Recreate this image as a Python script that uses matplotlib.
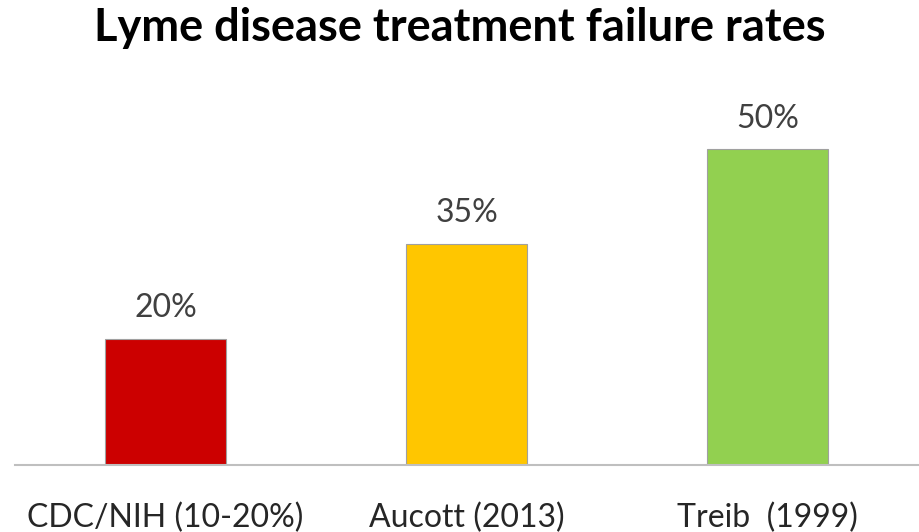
import numpy as np
import matplotlib.pyplot as plt

plt.rcParams['font.family'] = ['Lato', 'DejaVu Sans']

# Data
categories = ["CDC/NIH (10-20%)", "Aucott (2013)", "Treib  (1999)"]
rates = [20, 35, 50]
colors = ["#CC0000", "#FFC600", "#92D050"]

fig = plt.figure(figsize=(9.19, 5.32), dpi=100)
ax = fig.add_axes([15 / 919, (532 - 465) / 532, 903 / 919, 379 / 532])

x = np.arange(len(categories))
bars = ax.bar(x, rates, width=0.4, color=colors, edgecolor="#A0A0A0", linewidth=0.8, zorder=2)

# value labels above bars
for xi, r in zip(x, rates):
    ax.text(xi, r + 3.4, f"{r}%", ha="center", va="baseline", fontsize=23, color="#404040")

ax.set_xlim(-0.5, 2.5)
ax.set_ylim(0, 60)
ax.set_xticks(x)
ax.set_xticklabels(categories, fontsize=23, color="#262626")
ax.tick_params(axis="x", length=0, pad=27)
ax.set_yticks([])
for s in ["top", "right", "left"]:
    ax.spines[s].set_visible(False)
ax.spines["bottom"].set_color("#BFBFBF")
ax.spines["bottom"].set_linewidth(1.5)

fig.text(0.5, 1 - 41 / 532, "Lyme disease treatment failure rates", ha="center", va="baseline",
         fontsize=32.5, fontweight="bold", color="#000000")

fig.savefig("out.png", dpi=100)
